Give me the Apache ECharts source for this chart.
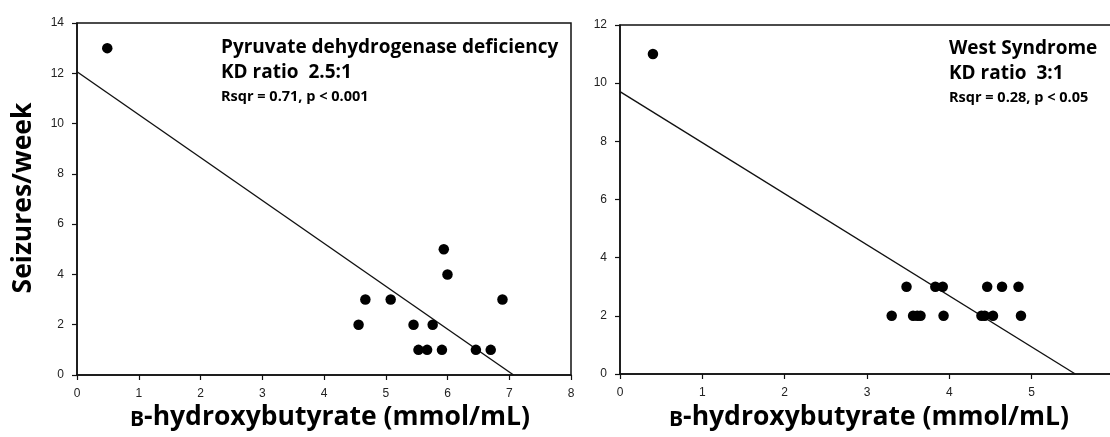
<!DOCTYPE html>
<html>
<head>
<meta charset="utf-8">
<script src="https://cdn.jsdelivr.net/npm/echarts@6/dist/echarts.min.js"></script>
<style>html,body{margin:0;padding:0;background:#fff;}#c{width:1110px;height:437px;}</style>
</head>
<body>
<div id="c"></div>
<script>
// Left panel: Pyruvate dehydrogenase deficiency
var leftX = [0.49, 4.56, 4.67, 5.08, 5.45, 5.53, 5.67, 5.76, 5.91, 5.94, 6.00, 6.46, 6.70, 6.89];
var leftY = [13, 2, 3, 3, 2, 1, 1, 2, 1, 5, 4, 1, 1, 3];
var leftFitX = [0, 7.07];
var leftFitY = [12.06, 0];
// Right panel: West Syndrome
var rightX = [0.40, 3.30, 3.48, 3.56, 3.61, 3.65, 3.83, 3.92, 3.93, 4.39, 4.43, 4.46, 4.53, 4.64, 4.84, 4.87];
var rightY = [11, 2, 3, 2, 2, 2, 3, 3, 2, 2, 2, 3, 2, 3, 3, 2];
var rightFitX = [0, 5.53];
var rightFitY = [9.71, 0];
// Axis ranges
var leftXRange = [0, 8, 1];
var leftYRange = [0, 14, 2];
var rightXRange = [0, 6, 1];
var rightYRange = [0, 12, 2];
var xTitle = 'B-hydroxybutyrate (mmol/mL)';
var yTitle = 'Seizures/week';
var leftText = ['Pyruvate dehydrogenase deficiency', 'KD ratio  2.5:1', 'Rsqr = 0.71, p < 0.001'];
var rightText = ['West Syndrome', 'KD ratio  3:1', 'Rsqr = 0.28, p < 0.05'];

function pairs(xs, ys) { return xs.map(function (x, i) { return [x, ys[i]]; }); }

var axisColor = '#111';
function xAxis(idx, r) {
  return {
    type: 'value', gridIndex: idx, min: r[0], max: r[1], interval: r[2],
    axisLine: { show: true, onZero: false, lineStyle: { color: axisColor, width: 1.5 } },
    axisTick: { show: true, length: 5, lineStyle: { color: axisColor, width: 1.2 } },
    axisLabel: { color: '#222', fontSize: 12, fontFamily: 'Liberation Sans', margin: 13, hideOverlap: false },
    splitLine: { show: false }
  };
}
function yAxis(idx, r) {
  return {
    type: 'value', gridIndex: idx, min: r[0], max: r[1], interval: r[2],
    axisLine: { show: true, onZero: false, lineStyle: { color: axisColor, width: 1.5 } },
    axisTick: { show: true, length: 5, lineStyle: { color: axisColor, width: 1.2 } },
    axisLabel: { color: '#222', fontSize: 12, fontFamily: 'Liberation Sans', margin: 13 },
    splitLine: { show: false }
  };
}
function scatter(idx, xs, ys) {
  return { type: 'scatter', xAxisIndex: idx, yAxisIndex: idx, data: pairs(xs, ys),
    symbol: 'circle', symbolSize: 10.5, itemStyle: { color: '#000', opacity: 1 }, z: 3 };
}
function fit(idx, xs, ys) {
  return { type: 'line', xAxisIndex: idx, yAxisIndex: idx, data: pairs(xs, ys),
    symbol: 'none', lineStyle: { color: '#111', width: 1.4 }, z: 2 };
}
function txt(x, y, s, size) {
  return { type: 'text', x: x, y: y, style: { text: s, fontFamily: 'Open Sans', fontSize: size,
    fontWeight: 'bold', fill: '#000', verticalAlign: 'middle', align: 'left' } };
}
function xTitleEl(cx) {
  return { type: 'text', x: cx, y: 417, style: {
    text: '{s|' + xTitle.charAt(0) + '}{n|' + xTitle.slice(1) + '}',
    align: 'center', verticalAlign: 'middle', fill: '#000',
    rich: {
      s: { fontFamily: 'Open Sans', fontWeight: 'bold', fontSize: 21, verticalAlign: 'bottom', lineHeight: 27, fill: '#000' },
      n: { fontFamily: 'Open Sans', fontWeight: 'bold', fontSize: 26.5, verticalAlign: 'bottom', lineHeight: 27, fill: '#000' }
    } } };
}

var chart = echarts.init(document.getElementById('c'), null, { renderer: 'canvas' });
chart.setOption({
  animation: false,
  backgroundColor: '#fff',
  grid: [
    { left: 77, top: 23, width: 494, height: 352, outerBoundsMode: 'none', containLabel: false, show: true, borderColor: axisColor, borderWidth: 1.5, backgroundColor: 'transparent' },
    { left: 620, top: 25, width: 494, height: 349, outerBoundsMode: 'none', containLabel: false, show: true, borderColor: axisColor, borderWidth: 1.5, backgroundColor: 'transparent' }
  ],
  xAxis: [xAxis(0, leftXRange), xAxis(1, rightXRange)],
  yAxis: [yAxis(0, leftYRange), yAxis(1, rightYRange)],
  series: [
    fit(0, leftFitX, leftFitY), scatter(0, leftX, leftY),
    fit(1, rightFitX, rightFitY), scatter(1, rightX, rightY)
  ],
  graphic: [
    { type: 'text', x: 23, y: 198, rotation: Math.PI / 2, style: { text: yTitle, fontFamily: 'Open Sans',
      fontSize: 26.5, fontWeight: 'bold', fill: '#000', align: 'center', verticalAlign: 'middle' } },
    xTitleEl(330), xTitleEl(869),
    txt(221, 48, leftText[0], 19), txt(221, 73, leftText[1], 19), txt(221, 97, leftText[2], 14.5),
    txt(949, 49, rightText[0], 19), txt(949, 74, rightText[1], 19), txt(949, 98, rightText[2], 14.5)
  ]
});
</script>
</body>
</html>
